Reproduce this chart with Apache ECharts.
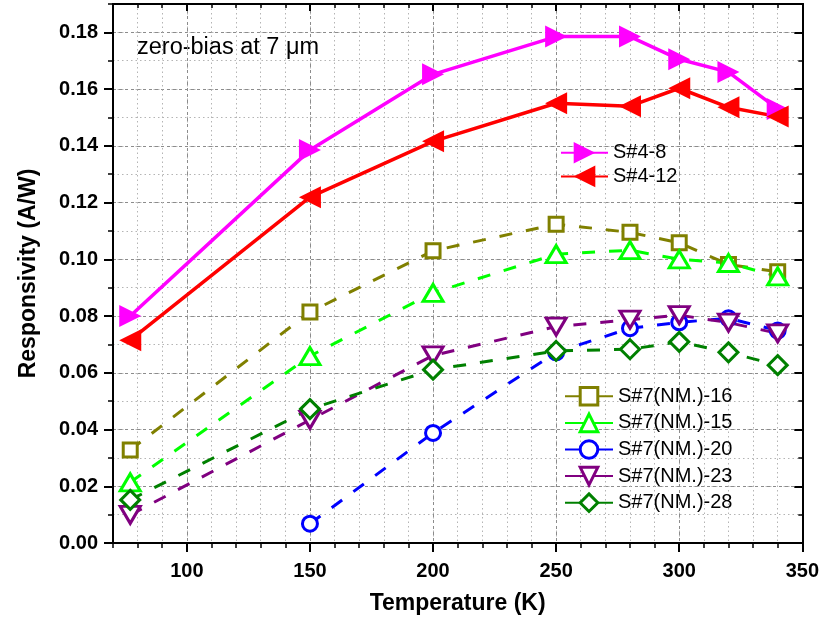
<!DOCTYPE html>
<html>
<head>
<meta charset="utf-8">
<script src="https://cdn.jsdelivr.net/npm/echarts@6/dist/echarts.min.js"></script>
<style>
  html, body { margin: 0; padding: 0; background: #fff; }
  #chart { width: 822px; height: 625px; }
</style>
</head>
<body>
<div id="chart"></div>
<script>
// Temperatures (K) at which each device was measured
const temps = [77, 150, 200, 250, 280, 300, 320, 340];
const tempsNM20 = [150, 200, 250, 280, 300, 320, 340];

// Zero-bias responsivity (A/W)
const s4_8   = [0.0800, 0.1385, 0.1652, 0.1785, 0.1785, 0.1705, 0.1660, 0.1530];
const s4_12  = [0.0715, 0.1219, 0.1416, 0.1550, 0.1540, 0.1603, 0.1536, 0.1503];
const nm16   = [0.0328, 0.0814, 0.1030, 0.1124, 0.1095, 0.1058, 0.0982, 0.0956];
const nm15   = [0.0214, 0.0659, 0.0882, 0.1018, 0.1032, 0.1000, 0.0987, 0.0940];
const nm20   = [0.0068, 0.0388, 0.0672, 0.0757, 0.0778, 0.0792, 0.0749];
const nm23   = [0.0099, 0.0434, 0.0661, 0.0763, 0.0787, 0.0803, 0.0777, 0.0739];
const nm28   = [0.0152, 0.0472, 0.0611, 0.0677, 0.0683, 0.0709, 0.0672, 0.0627];

// Tick values
const xMajorTicks = [100, 150, 200, 250, 300, 350];
const yMajorTicks = [0, 0.02, 0.04, 0.06, 0.08, 0.10, 0.12, 0.14, 0.16, 0.18];

const FONT = "'Liberation Sans', Arial, Helvetica, sans-serif";

const pairs = (xs, ys) => xs.map((x, i) => [x, ys[i]]);

function solidSeries(name, xs, ys, color, rotate) {
  return {
    name, type: 'line', xAxisIndex: 0, yAxisIndex: 0,
    data: pairs(xs, ys),
    symbol: 'triangle', symbolSize: 22, symbolRotate: rotate,
    lineStyle: { color, width: 3.5 },
    itemStyle: { color, borderColor: color, borderWidth: 0 },
    emphasis: { disabled: true }
  };
}

function hollowSeries(name, xs, ys, color, symbol, size, rotate) {
  return {
    name, type: 'line', xAxisIndex: 0, yAxisIndex: 0,
    data: pairs(xs, ys),
    symbol, symbolSize: size, symbolRotate: rotate || 0,
    lineStyle: { color, width: 3, type: [13, 14] },
    itemStyle: { color: '#ffffff', borderColor: color, borderWidth: 3 },
    emphasis: { disabled: true }
  };
}

const minorX = {
  min: 70, max: 350, interval: 10,
  axisLine: { onZero: false, lineStyle: { color: '#000', width: 2 } },
  axisLabel: { show: false },
  splitLine: { show: false }
};
const minorY = {
  min: 0, max: 0.19, interval: 0.01,
  axisLine: { onZero: false, lineStyle: { color: '#000', width: 2 } },
  axisLabel: { show: false },
  splitLine: { show: false }
};

const option = {
  animation: false,
  backgroundColor: '#ffffff',
  grid: { left: 113, right: 19, top: 4, bottom: 82, containLabel: false },
  xAxis: [
    // bottom, minor ticks + dotted grid
    Object.assign({}, minorX, {
      type: 'value', position: 'bottom',
      axisTick: { inside: false, length: 5, lineStyle: { color: '#000', width: 1.5 } },
      splitLine: { show: true, lineStyle: { color: '#b4b4b4', width: 1, type: [1.5, 3] } }
    }),
    // bottom, major ticks + labels + dashed grid
    {
      type: 'value', position: 'bottom', min: 70, max: 350, splitNumber: 6,
      name: 'Temperature (K)', nameLocation: 'middle', nameGap: 49,
      nameTextStyle: { fontFamily: FONT, fontSize: 23, fontWeight: 'bold', color: '#000' },
      axisLine: { onZero: false, lineStyle: { color: '#000', width: 2 } },
      axisTick: { inside: false, length: 9, customValues: xMajorTicks, lineStyle: { color: '#000', width: 2 } },
      axisLabel: { customValues: xMajorTicks, margin: 18, fontFamily: FONT, fontSize: 20, fontWeight: 'bold', color: '#000' },
      splitLine: { show: true, lineStyle: { color: '#8c8c8c', width: 1, type: [3, 3] } }
    },
    // top frame
    Object.assign({}, minorX, {
      type: 'value', position: 'top',
      axisTick: { inside: true, length: 4, lineStyle: { color: '#000', width: 1.5 } }
    }),
    {
      type: 'value', position: 'top', min: 70, max: 350, splitNumber: 6,
      axisLine: { onZero: false, lineStyle: { color: '#000', width: 2 } },
      axisTick: { inside: true, length: 7, customValues: xMajorTicks, lineStyle: { color: '#000', width: 2 } },
      axisLabel: { show: false },
      splitLine: { show: false }
    }
  ],
  yAxis: [
    Object.assign({}, minorY, {
      type: 'value', position: 'left',
      axisTick: { inside: false, length: 5, lineStyle: { color: '#000', width: 1.5 } },
      splitLine: { show: true, lineStyle: { color: '#b4b4b4', width: 1, type: [1.5, 3] } }
    }),
    {
      type: 'value', position: 'left', min: 0, max: 0.19, interval: 0.02,
      name: 'Responsivity (A/W)', nameLocation: 'middle', nameGap: 73, nameRotate: 90,
      nameTextStyle: { fontFamily: FONT, fontSize: 23, fontWeight: 'bold', color: '#000' },
      axisLine: { onZero: false, lineStyle: { color: '#000', width: 2 } },
      axisTick: { inside: false, length: 9, customValues: yMajorTicks, lineStyle: { color: '#000', width: 2 } },
      axisLabel: {
        customValues: yMajorTicks, margin: 15, fontFamily: FONT, fontSize: 20, fontWeight: 'bold', color: '#000',
        formatter: v => v.toFixed(2)
      },
      splitLine: { show: true, lineStyle: { color: '#8c8c8c', width: 1, type: [3, 3] } }
    },
    Object.assign({}, minorY, {
      type: 'value', position: 'right',
      axisTick: { inside: true, length: 4, lineStyle: { color: '#000', width: 1.5 } }
    }),
    {
      type: 'value', position: 'right', min: 0, max: 0.19, interval: 0.02,
      axisLine: { onZero: false, lineStyle: { color: '#000', width: 2 } },
      axisTick: { inside: true, length: 8, customValues: yMajorTicks, lineStyle: { color: '#000', width: 2 } },
      axisLabel: { show: false },
      splitLine: { show: false }
    }
  ],
  legend: [
    {
      data: ['S#4-8', 'S#4-12'],
      orient: 'vertical', left: 555, top: 137,
      itemWidth: 47, itemHeight: 27, itemGap: 2,
      textStyle: { fontFamily: FONT, fontSize: 20, color: '#000' },
      lineStyle: { type: 'solid' },
      selectedMode: false
    },
    {
      data: ['S#7(NM.)-16', 'S#7(NM.)-15', 'S#7(NM.)-20', 'S#7(NM.)-23', 'S#7(NM.)-28'],
      orient: 'vertical', left: 559, top: 381,
      itemWidth: 48, itemHeight: 22, itemGap: 6,
      textStyle: { fontFamily: FONT, fontSize: 20, color: '#000' },
      lineStyle: { type: 'solid' },
      itemStyle: { borderWidth: 3 },
      selectedMode: false
    }
  ],
  graphic: [
    {
      type: 'text', left: 137, top: 36,
      style: { text: 'zero-bias at 7 μm', font: '23.5px ' + FONT, fill: '#000' }
    }
  ],
  series: [
    solidSeries('S#4-8', temps, s4_8, '#ff00ff', -90),
    solidSeries('S#4-12', temps, s4_12, '#ff0000', 90),
    hollowSeries('S#7(NM.)-16', temps, nm16, '#808000', 'rect', 14),
    hollowSeries('S#7(NM.)-15', temps, nm15, '#00ff00', 'triangle', [20, 17]),
    hollowSeries('S#7(NM.)-20', tempsNM20, nm20, '#0000ff', 'circle', 15),
    hollowSeries('S#7(NM.)-23', temps, nm23, '#800080', 'triangle', [20, 17], 180),
    hollowSeries('S#7(NM.)-28', temps, nm28, '#008000', 'diamond', 19)
  ]
};

const chart = echarts.init(document.getElementById('chart'), null, { renderer: 'canvas' });
chart.setOption(option);
</script>
</body>
</html>
